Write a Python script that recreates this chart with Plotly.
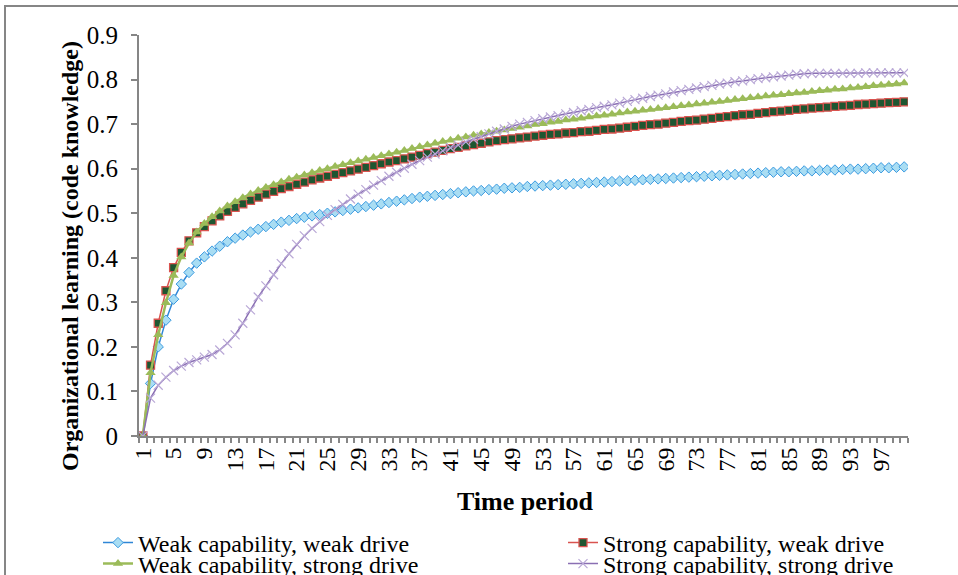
import plotly.graph_objects as go

periods = list(range(1, 101))
tick_positions = list(range(1, 101, 4))
tick_labels = [str(v) for v in tick_positions]

series_names = [
    "Weak capability, weak drive",
    "Strong capability, weak drive",
    "Weak capability, strong drive",
    "Strong capability, strong drive",
]

weak_cap_weak_drive = [
    0.000, 0.118, 0.200, 0.260, 0.307, 0.341, 0.367, 0.388, 0.402, 0.415,
    0.426, 0.436, 0.444, 0.451, 0.458, 0.464, 0.470, 0.475, 0.480, 0.484,
    0.488, 0.491, 0.494, 0.497, 0.500, 0.503, 0.506, 0.509, 0.512, 0.515,
    0.518, 0.521, 0.524, 0.527, 0.530, 0.533, 0.536, 0.538, 0.540, 0.542,
    0.544, 0.546, 0.548, 0.550, 0.551, 0.553, 0.554, 0.556, 0.557, 0.558,
    0.560, 0.561, 0.562, 0.563, 0.564, 0.565, 0.566, 0.567, 0.568, 0.569,
    0.570, 0.571, 0.572, 0.573, 0.574, 0.575, 0.576, 0.577, 0.578, 0.579,
    0.580, 0.581, 0.582, 0.583, 0.584, 0.585, 0.586, 0.587, 0.588, 0.589,
    0.590, 0.591, 0.592, 0.593, 0.593, 0.594, 0.595, 0.595, 0.596, 0.597,
    0.597, 0.598, 0.599, 0.599, 0.600, 0.601, 0.602, 0.602, 0.603, 0.604,
]

strong_cap_weak_drive = [
    0.000, 0.159, 0.253, 0.326, 0.378, 0.412, 0.438, 0.456, 0.470, 0.483,
    0.494, 0.504, 0.513, 0.521, 0.529, 0.536, 0.543, 0.549, 0.555, 0.560,
    0.565, 0.570, 0.575, 0.579, 0.583, 0.587, 0.591, 0.595, 0.599, 0.603,
    0.607, 0.611, 0.615, 0.618, 0.622, 0.626, 0.630, 0.634, 0.637, 0.641,
    0.645, 0.648, 0.651, 0.654, 0.657, 0.660, 0.663, 0.665, 0.667, 0.669,
    0.671, 0.673, 0.675, 0.677, 0.678, 0.680, 0.681, 0.683, 0.684, 0.686,
    0.688, 0.689, 0.691, 0.693, 0.695, 0.697, 0.699, 0.700, 0.702, 0.704,
    0.706, 0.708, 0.709, 0.711, 0.713, 0.715, 0.717, 0.719, 0.721, 0.722,
    0.724, 0.726, 0.728, 0.729, 0.731, 0.733, 0.734, 0.736, 0.737, 0.738,
    0.740, 0.741, 0.742, 0.744, 0.745, 0.746, 0.747, 0.748, 0.749, 0.750,
]

weak_cap_strong_drive = [
    0.000, 0.142, 0.227, 0.299, 0.360, 0.402, 0.433, 0.458, 0.477, 0.492,
    0.505, 0.516, 0.526, 0.535, 0.543, 0.551, 0.558, 0.564, 0.570, 0.576,
    0.581, 0.586, 0.591, 0.596, 0.600, 0.605, 0.609, 0.613, 0.617, 0.621,
    0.625, 0.629, 0.633, 0.637, 0.641, 0.645, 0.649, 0.653, 0.657, 0.661,
    0.664, 0.668, 0.671, 0.675, 0.678, 0.681, 0.684, 0.687, 0.690, 0.693,
    0.696, 0.699, 0.701, 0.704, 0.706, 0.709, 0.711, 0.713, 0.716, 0.718,
    0.720, 0.722, 0.725, 0.727, 0.729, 0.731, 0.733, 0.735, 0.737, 0.739,
    0.741, 0.743, 0.745, 0.747, 0.749, 0.751, 0.753, 0.755, 0.757, 0.759,
    0.761, 0.763, 0.765, 0.766, 0.768, 0.770, 0.771, 0.773, 0.775, 0.776,
    0.778, 0.779, 0.781, 0.782, 0.784, 0.786, 0.787, 0.789, 0.790, 0.792,
]

strong_cap_strong_drive = [
    0.000, 0.085, 0.114, 0.132, 0.147, 0.157, 0.165, 0.171, 0.177, 0.183,
    0.193, 0.208, 0.227, 0.253, 0.283, 0.312, 0.337, 0.362, 0.387, 0.409,
    0.430, 0.449, 0.466, 0.481, 0.495, 0.508, 0.520, 0.532, 0.543, 0.553,
    0.563, 0.573, 0.583, 0.592, 0.601, 0.610, 0.618, 0.626, 0.633, 0.640,
    0.647, 0.653, 0.660, 0.666, 0.672, 0.678, 0.684, 0.689, 0.695, 0.700,
    0.704, 0.708, 0.712, 0.716, 0.719, 0.723, 0.726, 0.730, 0.733, 0.737,
    0.740, 0.743, 0.747, 0.751, 0.755, 0.758, 0.762, 0.765, 0.768, 0.772,
    0.775, 0.778, 0.781, 0.784, 0.787, 0.790, 0.792, 0.795, 0.797, 0.800,
    0.802, 0.804, 0.806, 0.808, 0.810, 0.812, 0.813, 0.814, 0.814, 0.814,
    0.814, 0.814, 0.814, 0.814, 0.815, 0.815, 0.815, 0.815, 0.815, 0.815,
]

W, H = 958, 575
L, R, T, B = 139, 50, 35, 139
PW, PH = W - L - R, H - T - B


def px(x):
    return (x - L) / PW


def py(y):
    return (H - B - y) / PH


FONT = "Liberation Serif, Times New Roman, serif"
GRAY = "#868686"
FS = 24

fig = go.Figure()

styles = [
    dict(line=dict(color="#2F86D6", width=1.5),
         marker=dict(symbol="diamond", size=8, color="#A9DDF3",
                     line=dict(color="#3A9AE0", width=1))),
    dict(line=dict(color="#D9534F", width=1.5),
         marker=dict(symbol="square", size=8, color="#1E5631",
                     line=dict(color="#D9534F", width=1.3))),
    dict(line=dict(color="#9BBB59", width=2.5),
         marker=dict(symbol="triangle-up", size=9, color="#9BBB59",
                     line=dict(color="#9BBB59", width=0))),
    dict(line=dict(color="#8A6FB3", width=1.5),
         marker=dict(symbol="x-thin", size=9, color="#B9A8D6",
                     line=dict(color="#B9A8D6", width=1.2))),
]
data = [weak_cap_weak_drive, strong_cap_weak_drive,
        weak_cap_strong_drive, strong_cap_strong_drive]
legend_ids = ["legend", "legend2", "legend3", "legend4"]

for name, vals, st, lg in zip(series_names, data, styles, legend_ids):
    fig.add_trace(go.Scatter(x=periods, y=vals, mode="lines+markers", name=name,
                             legend=lg, **st))

# legend positions (pixel of legend left / row center)
leg_pos = [(98, 543), (563, 543), (98, 564), (563, 564)]
leg_common = dict(font=dict(family=FONT, size=FS, color="black"),
                  bgcolor="rgba(0,0,0,0)", xanchor="left", yanchor="middle",
                  itemwidth=30, tracegroupgap=0)
layout_legends = {}
for lg, (lx, ly) in zip(legend_ids, leg_pos):
    layout_legends[lg] = dict(x=px(lx), y=py(ly), **leg_common)

fig.update_layout(
    width=W, height=H,
    margin=dict(l=L, r=R, t=T, b=B, pad=0, autoexpand=False),
    paper_bgcolor="white", plot_bgcolor="white",
    font=dict(family=FONT, size=FS, color="black"),
    showlegend=True,
    **layout_legends,
    xaxis=dict(
        range=[0.5, 100.5], tickmode="array", tickvals=tick_positions,
        ticktext=tick_labels, tickangle=-90, ticks="", showgrid=False,
        showline=True, linecolor=GRAY, linewidth=2, zeroline=False,
        tickfont=dict(family=FONT, size=FS, color="black"),
        minor=dict(tickmode="linear", tick0=0.5, dtick=1, ticks="outside",
                   ticklen=5, tickwidth=2, tickcolor=GRAY, showgrid=False),
        automargin=False, fixedrange=True,
    ),
    yaxis=dict(
        range=[0, 0.9], tickmode="linear", tick0=0, dtick=0.1,
        tickformat="~g", ticks="outside", ticklen=6, tickwidth=2,
        tickcolor=GRAY, showline=True, linecolor=GRAY, linewidth=2,
        showgrid=False, zeroline=False, ticklabelstandoff=8,
        tickfont=dict(family=FONT, size=25, color="black"),
        automargin=False, fixedrange=True,
    ),
    annotations=[
        dict(text="<b>Organizational learning (code knowledge)</b>",
             xref="paper", yref="paper", x=px(70), y=py(256), textangle=-90,
             showarrow=False, xanchor="center", yanchor="middle",
             font=dict(family=FONT, size=24, color="black")),
        dict(text="<b>Time period</b>", xref="paper", yref="paper",
             x=px(525), y=py(501), showarrow=False, xanchor="center",
             yanchor="middle", font=dict(family=FONT, size=26, color="black")),
    ],
    shapes=[
        dict(type="rect", xref="paper", yref="paper", x0=px(5), y0=py(590),
             x1=px(975), y1=py(6), line=dict(color=GRAY, width=2),
             fillcolor="rgba(0,0,0,0)", layer="below"),
    ],
)

fig.write_html("out.html")
